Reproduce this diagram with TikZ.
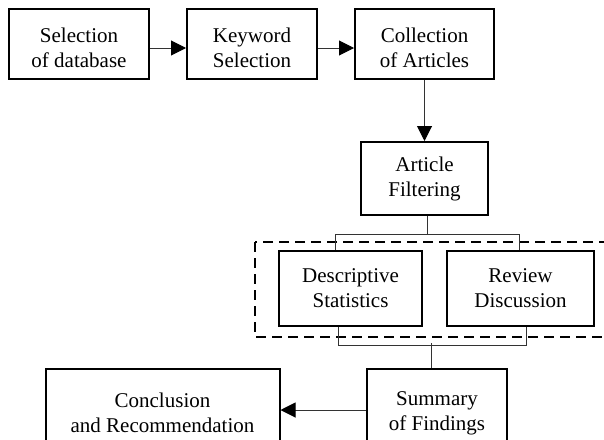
\documentclass[tikz,border=0pt]{standalone}
\usepackage{fontspec}
\setmainfont{Liberation Serif}
\usetikzlibrary{positioning,arrows.meta,calc}

\begin{document}
\begin{tikzpicture}[x=1pt,y=-1pt,
  every node/.style={font=\fontsize{21}{25}\selectfont},
  box/.style={draw, line width=2pt, align=center, minimum height=70pt, inner sep=0pt},
  toprow/.style={box, text height=47.5pt},
  link/.style={draw=black!80, line width=1pt},
  flow/.style={link, -{Triangle[length=15pt,width=15pt,black]}},
  group/.style={draw, line width=2pt, dash pattern=on 10pt off 6pt}
]
\useasboundingbox (0,0) rectangle (604,439);

% top row
\node[toprow, minimum width=140pt] (sel) at (79,44) {Selection\\of database};
\node[toprow, minimum width=130pt] (kw) at (252,44) {Keyword\\Selection};
\node[toprow, minimum width=139pt] (coll) at (424.5,44) {Collection\\of Articles};

\node[box, minimum width=127pt, minimum height=73pt] (filt) at (424.5,178.5) {Article\\Filtering};

% analysis group
\draw[group] (255,242) rectangle (625,337);
\node[box, minimum width=143pt, minimum height=75pt] (desc) at (350.5,288.5) {Descriptive\\Statistics};
\node[box, minimum width=147pt, minimum height=75pt] (rev) at (520.5,288.5) {Review\\Discussion};

% bottom row
\node[box, minimum width=140pt, minimum height=82pt, text height=45.5pt] (summ) at (437,410) {Summary\\of Findings};
\node[box, minimum width=234pt, minimum height=82pt, text height=45.5pt] (concl) at (162.5,410) {Conclusion\\and Recommendation};

\draw[flow] ([yshift=-4pt]sel.east) -- ([yshift=-4pt]kw.west);
\draw[flow] ([yshift=-4pt]kw.east) -- ([yshift=-4pt]coll.west);
\draw[flow] (coll.south) -- (filt.north);

\draw[link] ([xshift=3pt]filt.south) -- ++(0,18) -| ([xshift=-15pt]desc.north);
\draw[link] ([xshift=3pt]filt.south) -- ++(0,18) -| ([xshift=-1pt]rev.north);

\draw[link] ([xshift=-12.5pt]desc.south) -- ++(0,18) -| ([xshift=5.5pt]rev.south);
\draw[link] ([xshift=-6pt]summ.north) -- ++(0,-25);

\draw[flow] (summ.west) -- (concl.east);
\end{tikzpicture}
\end{document}
